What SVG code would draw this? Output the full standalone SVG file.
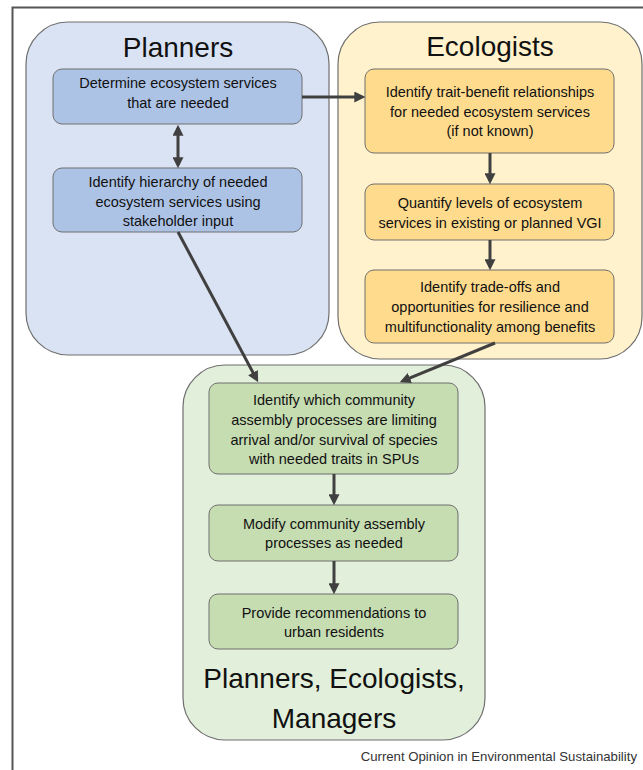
<svg xmlns="http://www.w3.org/2000/svg" width="643" height="770" viewBox="0 0 643 770">
<defs>
<style>
.grp{stroke:#6f6f6f;stroke-width:1.2}
.pl{fill:#dae3f3}
.ec{fill:#fff2cc}
.gr{fill:#e2efda}
.pn{fill:#adc3e6;stroke:#6f6f6f;stroke-width:1}
.en{fill:#ffdb8d;stroke:#6f6f6f;stroke-width:1}
.gn{fill:#c6dcb1;stroke:#6f6f6f;stroke-width:1}
.t{font-family:"Liberation Sans",Arial,sans-serif;font-size:14.5px;fill:#111;text-anchor:middle}
.h{font-family:"Liberation Sans",Arial,sans-serif;font-size:28px;fill:#111;text-anchor:middle}
.c{stroke:#404040;stroke-width:3;fill:none;marker-end:url(#ah)}
</style>
<marker id="ah" markerUnits="userSpaceOnUse" viewBox="0 0 10 10" refX="7" refY="5" markerWidth="11" markerHeight="11" orient="auto-start-reverse">
<path d="M0,0 L10,5 L0,10 z" fill="#404040"/>
</marker>
</defs>
<rect width="643" height="770" fill="#fff"/>
<path d="M12.5,770 V7.5 H643" fill="none" stroke="#555" stroke-width="2"/>

<g id="planners">
<rect class="grp pl" x="26" y="22" width="303" height="333" rx="42"/>
<text class="h" x="178" y="57">Planners</text>
</g>
<g id="ecologists">
<rect class="grp ec" x="338" y="22" width="304" height="337" rx="42"/>
<text class="h" x="490" y="56">Ecologists</text>
</g>
<g id="joint">
<rect class="grp gr" x="183" y="365" width="302" height="375" rx="42"/>
<text class="h" x="334" y="688">Planners, Ecologists,</text>
<text class="h" x="334" y="728">Managers</text>
</g>

<g id="p1">
<rect class="pn" x="53" y="69" width="249" height="55" rx="9"/>
<text class="t" x="178" y="88">Determine ecosystem services</text>
<text class="t" x="178" y="108">that are needed</text>
</g>
<g id="p2">
<rect class="pn" x="53" y="168" width="249" height="64" rx="9"/>
<text class="t" x="178" y="187">Identify hierarchy of needed</text>
<text class="t" x="178" y="207">ecosystem services using</text>
<text class="t" x="178" y="226">stakeholder input</text>
</g>

<g id="e1">
<rect class="en" x="365" y="69" width="249" height="84" rx="9"/>
<text class="t" x="490" y="97">Identify trait-benefit relationships</text>
<text class="t" x="490" y="117">for needed ecosystem services</text>
<text class="t" x="490" y="136">(if not known)</text>
</g>
<g id="e2">
<rect class="en" x="365" y="184" width="249" height="56" rx="9"/>
<text class="t" x="490" y="208">Quantify levels of ecosystem</text>
<text class="t" x="490" y="228">services in existing or planned VGI</text>
</g>
<g id="e3">
<rect class="en" x="365" y="270" width="249" height="73" rx="9"/>
<text class="t" x="490" y="292">Identify trade-offs and</text>
<text class="t" x="490" y="312">opportunities for resilience and</text>
<text class="t" x="490" y="332">multifunctionality among benefits</text>
</g>

<g id="g1">
<rect class="gn" x="209" y="383" width="249" height="91" rx="9"/>
<text class="t" x="334" y="405">Identify which community</text>
<text class="t" x="334" y="425">assembly processes are limiting</text>
<text class="t" x="334" y="445">arrival and/or survival of species</text>
<text class="t" x="334" y="464">with needed traits in SPUs</text>
</g>
<g id="g2">
<rect class="gn" x="209" y="505" width="249" height="56" rx="9"/>
<text class="t" x="334" y="529">Modify community assembly</text>
<text class="t" x="334" y="548">processes as needed</text>
</g>
<g id="g3">
<rect class="gn" x="209" y="594" width="249" height="55" rx="9"/>
<text class="t" x="334" y="618">Provide recommendations to</text>
<text class="t" x="334" y="637">urban residents</text>
</g>

<g id="connectors">
<line class="c" x1="302" y1="97" x2="362" y2="97"/>
<line class="c" x1="178" y1="128" x2="178" y2="165" style="marker-start:url(#ah)"/>
<line class="c" x1="490" y1="153" x2="490" y2="181"/>
<line class="c" x1="490" y1="240" x2="490" y2="267"/>
<line class="c" x1="178" y1="232" x2="256.6" y2="379.4"/>
<line class="c" x1="495" y1="343" x2="402.8" y2="380.9"/>
<line class="c" x1="334" y1="474" x2="334" y2="502"/>
<line class="c" x1="334" y1="561" x2="334" y2="591"/>
</g>

<text x="637" y="761" font-family="'Liberation Sans',Arial,sans-serif" font-size="13.2" fill="#333" text-anchor="end">Current Opinion in Environmental Sustainability</text>
</svg>
